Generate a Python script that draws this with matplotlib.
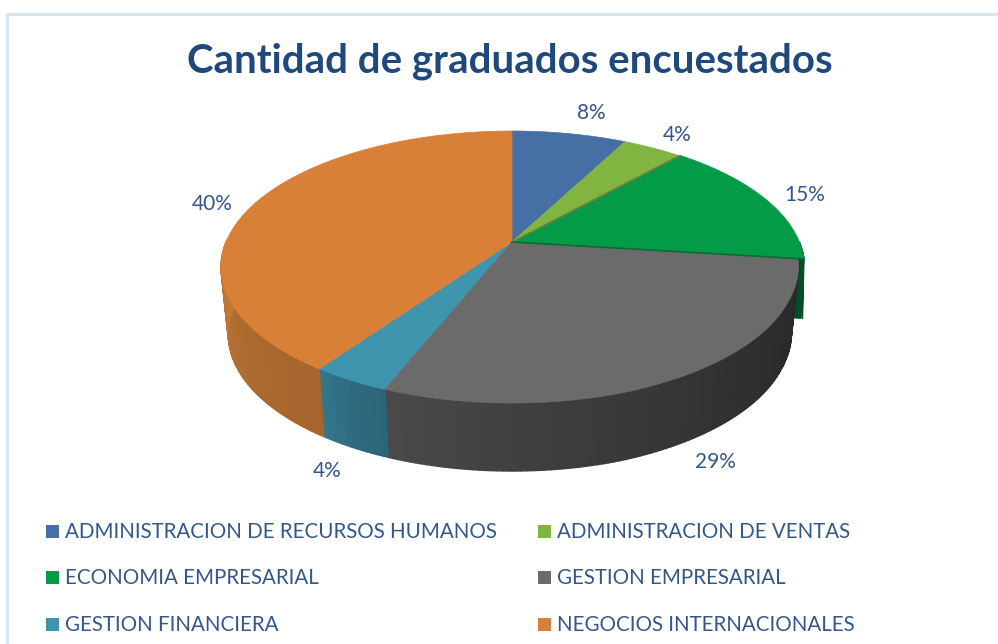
import numpy as np
import matplotlib.pyplot as plt
from matplotlib.patches import Polygon, Rectangle

categories = [
    "ADMINISTRACION DE RECURSOS HUMANOS",
    "ADMINISTRACION DE VENTAS",
    "ECONOMIA EMPRESARIAL",
    "GESTION EMPRESARIAL",
    "GESTION FINANCIERA",
    "NEGOCIOS INTERNACIONALES",
]
# the labels show them rounded
percent = [7.6, 4.0, 15.4, 29.0, 3.7, 40.3]

top_colors = ["#466fa6", "#82b441", "#049b48", "#6b6b6b", "#3f95ae", "#d98038"]
# side colours go from the clockwise start of the slice to its end
side_start = ["#2c4a70", "#556f2a", "#024f26", "#282828", "#2c6579", "#a5652c"]
side_end = ["#2c4a70", "#556f2a", "#024f26", "#4a4a4a", "#33788e", "#c27a36"]

text_color = "#34578a"
title_color = "#1f497d"

plt.rcParams["font.family"] = ["Lato", "DejaVu Sans"]

CX, CY = 512, 242
R, B, K = 286, 131.4, 0.184
DEPTH = 67
GREEN_DEPTH = 60
SIDE_SCALE = 0.97
GREEN_SCALE = 0.99

edges = np.concatenate([[0], np.cumsum(percent)]) / sum(percent) * 360


def project(angle, radius=1.0, drop=0, xscale=1.0):
    # angle in degrees, clockwise from 12 o'clock, simple perspective
    a = np.radians(angle)
    x = radius * np.sin(a)
    d = -radius * np.cos(a)
    f = 1 / (1 - K * d)
    return CX + xscale * R * x * f, CY + B * d * f + drop


def rim(i, angle):
    # green sits a little proud, grey pulls in towards the green
    if i == 2:
        return 1.005
    if i == 3:
        return np.interp(angle, [edges[3], edges[3] + 18, edges[3] + 65], [0.985, 0.985, 1.0])
    return 1.0


def hex_rgb(c):
    return np.array([int(c[i:i + 2], 16) / 255 for i in (1, 3, 5)])


fig = plt.figure(figsize=(9.98, 6.44), dpi=100)
ax = fig.add_axes([0, 0, 1, 1])
ax.set_xlim(0, 998)
ax.set_ylim(644, 0)
ax.axis("off")

# chart frame, only top and left are in the crop
ax.plot([7.5, 7.5, 998], [644, 13.5, 13.5], color="#d5e3f5", lw=2, solid_joinstyle="miter")

# sides first
for i in range(len(percent)):
    start, end = edges[i], edges[i + 1]
    if end <= 90:
        continue
    first = max(start, 90)
    steps = max(int(end - first), 2)
    angles = np.linspace(first, end, steps + 1)
    c0, c1 = hex_rgb(side_start[i]), hex_rgb(side_end[i])
    drop = GREEN_DEPTH if i == 2 else DEPTH
    xs = GREEN_SCALE if i == 2 else SIDE_SCALE
    for j in range(steps):
        a0, a1 = angles[j], angles[j + 1]
        if a0 >= 270:
            continue
        x0, y0 = project(a0, rim(i, a0))
        x1, y1 = project(a1, rim(i, a1))
        # bottom rim keeps the pull-in of the top rim, slightly eased
        x2, y2 = project(a1, rim(i, a1) + 0.005, drop, xs)
        x3, y3 = project(a0, rim(i, a0) + 0.005, drop, xs)
        # orange turns away after 270, so its ramp ends there
        stop = 270 if i == 5 else end
        t = (a0 - first) / (stop - first)
        col = c0 + (c1 - c0) * t ** 1.4
        ax.add_patch(Polygon([(x0, y0), (x1, y1), (x2, y2), (x3, y3)],
                             closed=True, facecolor=col, edgecolor=col, lw=1,
                             zorder=2 if i == 2 else 3))

# cut face of the green slice, mostly hidden by the grey one
x0, y0 = project(edges[3], 1.005)
x1, y1 = project(edges[3], 1.005, GREEN_DEPTH, GREEN_SCALE)
ax.add_patch(Polygon([(x0, y0), (x1, y1), (CX, CY + GREEN_DEPTH), (CX, CY)],
                     closed=True, facecolor=side_start[2], edgecolor="none", zorder=2))

# tops
for i in range(len(percent)):
    angles = np.linspace(edges[i], edges[i + 1], 120)
    radii = np.array([rim(i, a) for a in angles])
    xs, ys = project(angles, radii)
    pts = [(CX, CY)] + list(zip(xs, ys))
    ax.add_patch(Polygon(pts, closed=True, facecolor=top_colors[i],
                         edgecolor=top_colors[i], lw=0.5, zorder=5 if i == 3 else 4))

# darker lines along the lower edge of the lime and green slices
for i, col in [(1, "#70813a"), (2, "#0b6a36")]:
    x, y = project(edges[i + 1], rim(i, edges[i + 1]))
    ax.plot([CX, x], [CY, y], color=col, lw=1.2, zorder=6)

ax.text(510, 61, "Cantidad de graduados encuestados", color=title_color,
        fontsize=28.9, fontweight="bold", ha="center", va="center")

label_x = [591, 677, 805, 715, 327, 212]
label_y = [113, 135, 195, 462, 471, 204]
for v, x, y in zip(percent, label_x, label_y):
    ax.text(x, y, f"{v:.0f}%", color=text_color, fontsize=15, ha="center", va="center")

legend_x = [46, 538]
legend_y = [531, 577, 624]
for i, name in enumerate(categories):
    lx = legend_x[i % 2]
    ly = legend_y[i // 2]
    ax.add_patch(Rectangle((lx, ly - 6), 13, 13, facecolor=top_colors[i], edgecolor="none"))
    ax.text(lx + 19, ly + 1, name, color=text_color, fontsize=14.8, va="center", ha="left")

fig.savefig("out.png", dpi=100)
